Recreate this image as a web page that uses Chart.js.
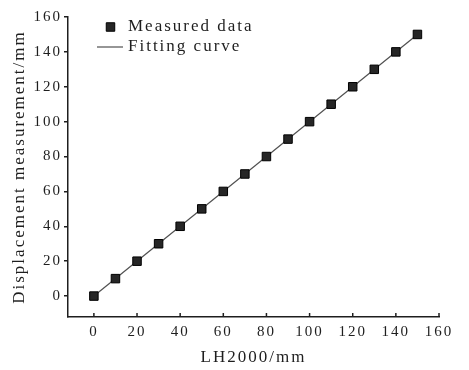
<!DOCTYPE html>
<html lang="en">
<head>
    <meta charset="UTF-8">
    <title>Displacement measurement vs LH2000</title>
    <style>
        body { margin: 0; background: #fff; }
        canvas { display: block; }
    </style>
</head>
<body>
    <canvas id="fitChart" width="469" height="370"></canvas>

    <script src="https://cdn.jsdelivr.net/npm/chart.js"></script>
    <script>
        // values
        const lh2000 = [0, 10, 20, 30, 40, 50, 60, 70, 80, 90, 100, 110, 120, 130, 140, 150];
        const measured = [0, 10, 20, 30, 40, 50, 60, 70, 80, 90, 100, 110, 120, 130, 140, 150];
        const fitX = [0, 150];
        const fitY = [0, 150];
        const xTicks = [0, 20, 40, 60, 80, 100, 120, 140, 160];
        const yTicks = [0, 20, 40, 60, 80, 100, 120, 140, 160];

        const INK = '#1e1e1e';
        const FONT = 'Liberation Serif';

        // the scanned figure has widely spaced serif text
        const spacing = {
            id: 'spacing',
            beforeUpdate(chart) { chart.ctx.letterSpacing = '2px'; },
            beforeDraw(chart) { chart.ctx.letterSpacing = '2px'; }
        };

        // x ticks point inwards (up) in the original
        const innerTicks = {
            id: 'innerTicks',
            afterDraw(chart) {
                const x = chart.scales.x;
                const ctx = chart.ctx;
                ctx.save();
                ctx.strokeStyle = INK;
                ctx.lineWidth = 1.5;
                x.ticks.forEach(t => {
                    const px = x.getPixelForValue(t.value);
                    ctx.beginPath();
                    ctx.moveTo(px, x.top);
                    ctx.lineTo(px, x.top - 4);
                    ctx.stroke();
                });
                ctx.restore();
            }
        };

        const innerLegend = {
            id: 'innerLegend',
            afterDraw(chart) {
                const ctx = chart.ctx;
                const a = chart.chartArea;
                const pts = chart.data.datasets[0];
                const fit = chart.data.datasets[1];
                ctx.save();
                ctx.letterSpacing = '2px';
                ctx.font = '17px "' + FONT + '"';
                ctx.textBaseline = 'middle';

                ctx.fillStyle = pts.backgroundColor;
                ctx.strokeStyle = pts.borderColor;
                ctx.lineWidth = 1;
                Chart.helpers.drawPoint(ctx, { pointStyle: 'rect', radius: pts.pointRadius, borderWidth: 1 }, a.left + 42.5, a.top + 10);

                ctx.strokeStyle = fit.borderColor;
                ctx.lineWidth = fit.borderWidth;
                ctx.beginPath();
                ctx.moveTo(a.left + 29, a.top + 30);
                ctx.lineTo(a.left + 55, a.top + 30);
                ctx.stroke();

                ctx.fillStyle = INK;
                ctx.fillText(pts.label, a.left + 60, a.top + 10);
                ctx.fillText(fit.label, a.left + 60, a.top + 30);
                ctx.restore();
            }
        };

        const ctx = document.getElementById('fitChart').getContext('2d');
        new Chart(ctx, {
            type: 'scatter',
            data: {
                datasets: [{
                    label: 'Measured data',
                    data: lh2000.map((x, i) => ({ x: x, y: measured[i] })),
                    pointStyle: 'rect',
                    pointRadius: 6,
                    backgroundColor: '#262626',
                    borderColor: '#000',
                    borderWidth: 1,
                    order: 0
                }, {
                    label: 'Fitting curve',
                    data: fitX.map((x, i) => ({ x: x, y: fitY[i] })),
                    showLine: true,
                    pointRadius: 0,
                    borderColor: '#505050',
                    borderWidth: 1.2,
                    fill: false,
                    order: 1
                }]
            },
            options: {
                responsive: false,
                animation: false,
                layout: { padding: { top: 17, right: 30, left: 0, bottom: 0 } },
                plugins: {
                    legend: { display: false },
                    tooltip: { enabled: false }
                },
                font: { family: FONT },
                scales: {
                    x: {
                        type: 'linear',
                        min: -12,
                        max: 160,
                        afterBuildTicks: s => { s.ticks = xTicks.map(v => ({ value: v })); },
                        afterFit: s => { s.height = 53; },
                        grid: { display: false, drawTicks: false },
                        border: { display: true, color: INK, width: 1.5 },
                        ticks: { padding: 6, color: INK, font: { family: FONT, size: 15 } },
                        title: {
                            display: true,
                            text: 'LH2000/mm',
                            color: INK,
                            padding: { top: 0, bottom: 2 },
                            font: { family: FONT, size: 17 }
                        }
                    },
                    y: {
                        type: 'linear',
                        min: -12,
                        max: 160,
                        afterBuildTicks: s => { s.ticks = yTicks.map(v => ({ value: v })); },
                        afterFit: s => { s.width = 68; },
                        grid: {
                            display: true,
                            drawOnChartArea: false,
                            drawTicks: true,
                            tickLength: 4,
                            color: INK,
                            lineWidth: 1.5
                        },
                        border: { display: true, color: INK, width: 1.5 },
                        ticks: { padding: 2, color: INK, font: { family: FONT, size: 15 } },
                        title: {
                            display: true,
                            text: 'Displacement measurement/mm',
                            color: INK,
                            padding: { top: 9, bottom: 0 },
                            font: { family: FONT, size: 17 }
                        }
                    }
                }
            },
            plugins: [spacing, innerTicks, innerLegend]
        });
    </script>
</body>
</html>
